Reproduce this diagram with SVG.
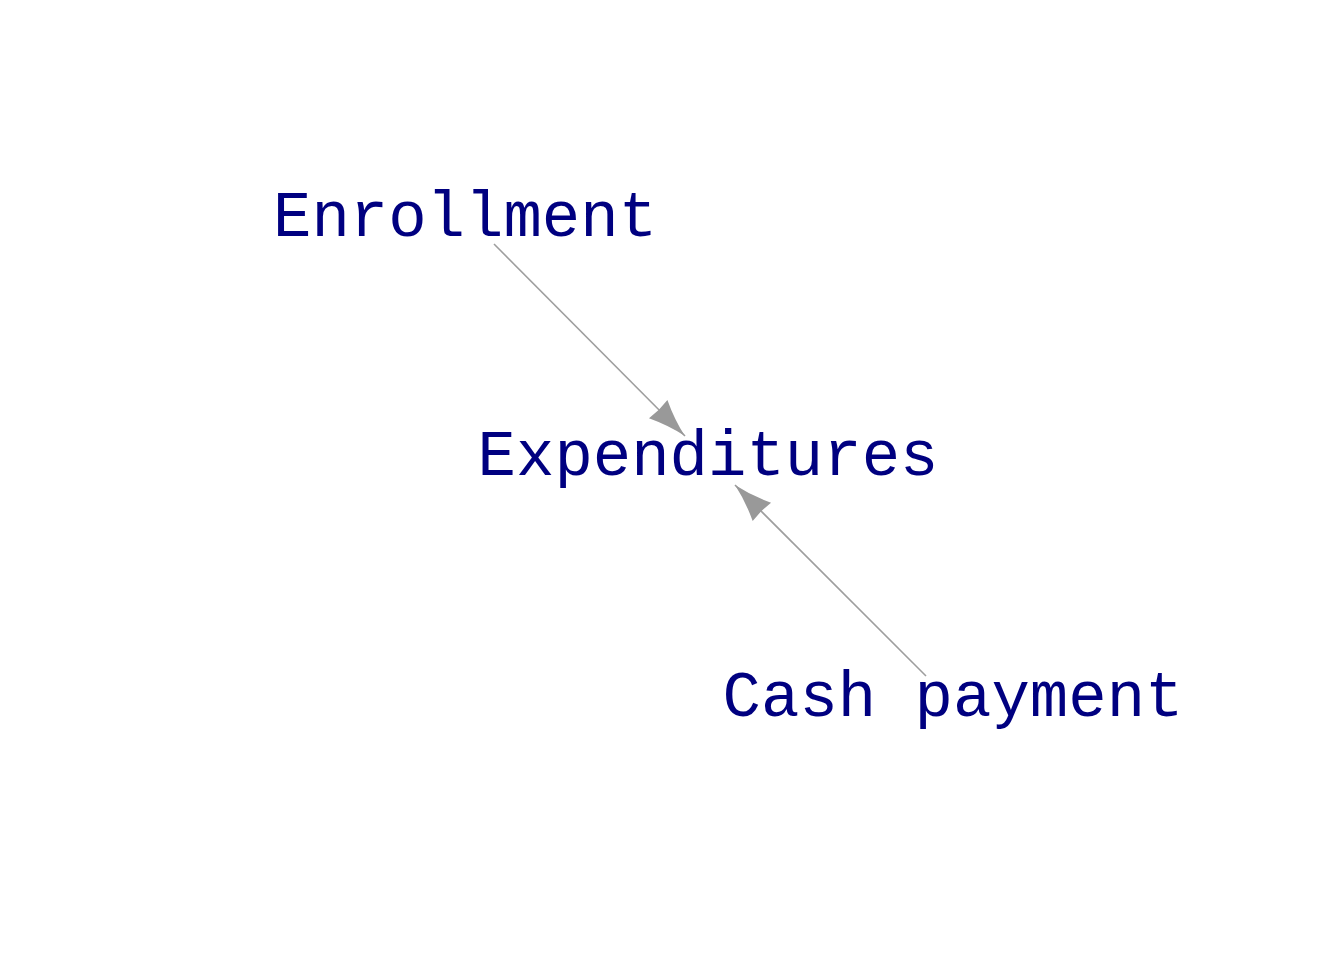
<svg xmlns="http://www.w3.org/2000/svg" width="1344" height="960" viewBox="0 0 1344 960">
  <style>
    .label { font-family: "Liberation Mono", "Courier New", monospace; font-size: 64px; fill: #000080; text-anchor: middle; }
    .edge { stroke: #9e9e9e; stroke-width: 1.6; fill: none; }
  </style>
  <defs>
    <!-- concave-sided arrowhead, tip at the line end -->
    <marker id="head" markerUnits="userSpaceOnUse" orient="auto" markerWidth="50" markerHeight="40" viewBox="-45 -20 50 40" refX="0" refY="0" overflow="visible">
      <path d="M0,0 Q-19,-4 -38,-13 L-37,0 L-38,13 Q-19,4 0,0 Z" fill="#999999"/>
    </marker>
  </defs>
  <rect width="1344" height="960" fill="#ffffff"/>
  <g id="edges">
    <line class="edge" x1="494" y1="244" x2="685" y2="436" marker-end="url(#head)"/>
    <line class="edge" x1="926" y1="676" x2="735" y2="485" marker-end="url(#head)"/>
  </g>
  <g id="node-enrollment">
    <text class="label" x="465" y="236">Enrollment</text>
  </g>
  <g id="node-expenditures">
    <text class="label" x="708" y="475">Expenditures</text>
  </g>
  <g id="node-cash-payment">
    <text class="label" x="953" y="716">Cash payment</text>
  </g>
</svg>
